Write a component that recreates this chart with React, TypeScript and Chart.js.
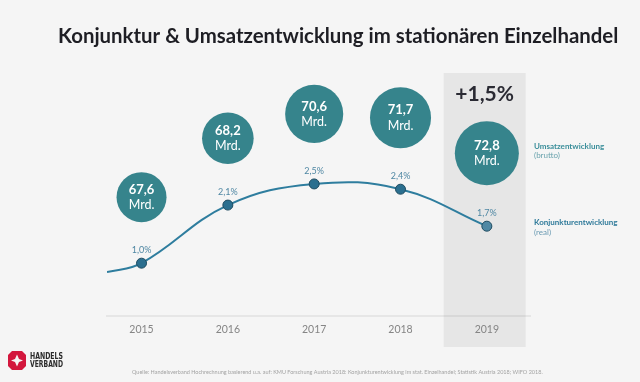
import React, { useEffect, useRef } from "react";
import { Chart, registerables } from "chart.js";

Chart.register(...registerables);

// ---- data ----
const years = [2015, 2016, 2017, 2018, 2019];
const konjunktur = [1.0, 2.1, 2.5, 2.4, 1.7];
const konjunkturLabels = ["1,0%", "2,1%", "2,5%", "2,4%", "1,7%"];
const umsatz = [67.6, 68.2, 70.6, 71.7, 72.8];
const umsatzLabels = ["67,6", "68,2", "70,6", "71,7", "72,8"];
const unitLabel = "Mrd.";
const leadIn = { x: 2014.6, y: 0.83 };
const highlightYear = 2019;
const highlightText = "+1,5%";
const titleText = "Konjunktur & Umsatzentwicklung im stationären Einzelhandel";
const sourceText =
  "Quelle: Handelsverband Hochrechnung basierend u.a. auf: KMU Forschung Austria 2018: Konjunkturentwicklung im stat. Einzelhandel; Statistik Austria 2018; WIFO 2018.";
const legendUmsatz = ["Umsatzentwicklung", "(brutto)"];
const legendKonjunktur = ["Konjunkturentwicklung", "(real)"];
const logoLines = ["HANDELS", "VERBAND"];

const FONT = "Lato, 'Open Sans', sans-serif";
const TEAL = "#36848c";

const decorPlugin = {
  id: "decor",
  beforeDraw(chart: any) {
    const { ctx, chartArea, scales } = chart;
    ctx.save();
    ctx.fillStyle = "#f5f5f5";
    ctx.fillRect(0, 0, chart.width, chart.height);
    const x0 = scales.x.getPixelForValue(highlightYear - 0.5);
    const x1 = scales.x.getPixelForValue(highlightYear + 0.45);
    ctx.fillStyle = "#e6e6e6";
    ctx.fillRect(x0, chartArea.top, x1 - x0, chartArea.bottom - chartArea.top + 31);
    ctx.restore();
  },
  afterDatasetsDraw(chart: any) {
    const { ctx, chartArea, scales } = chart;
    const meta = chart.getDatasetMeta(0);
    ctx.save();
    ctx.textAlign = "center";
    ctx.textBaseline = "middle";
    let lastCircleY = 0;
    let lastPointY = 0;
    years.forEach((yr, i) => {
      const pt = meta.data[i + 1];
      const px = pt.x;
      const py = pt.y;
      // percent label
      ctx.font = `9px ${FONT}`;
      ctx.fillStyle = "#4f87a3";
      ctx.fillText(konjunkturLabels[i], px, py - 13);
      // revenue circle
      const r = 25 + (umsatz[i] - umsatz[0]) * 1.35;
      const cy = py - 41 - r;
      ctx.beginPath();
      ctx.arc(px, cy, r, 0, Math.PI * 2);
      ctx.fillStyle = TEAL;
      ctx.fill();
      ctx.fillStyle = "#ffffff";
      ctx.font = `bold 13px ${FONT}`;
      ctx.fillText(umsatzLabels[i], px, cy - 7.5);
      ctx.font = `12.5px ${FONT}`;
      ctx.fillText(unitLabel, px, cy + 8);
      lastCircleY = cy;
      lastPointY = py;
    });
    // highlight text
    const hx = scales.x.getPixelForValue(highlightYear - 0.025);
    ctx.font = `bold 21px ${FONT}`;
    ctx.fillStyle = "#2a2a33";
    ctx.fillText(highlightText, hx, chartArea.top + 21);
    // side legend
    const lx = chartArea.right + 4;
    ctx.textAlign = "left";
    ctx.font = `bold 8px ${FONT}`;
    ctx.fillStyle = "#3a8e9a";
    ctx.fillText(legendUmsatz[0], lx, lastCircleY - 7);
    ctx.font = `8px ${FONT}`;
    ctx.fillStyle = "#6aa3ad";
    ctx.fillText(legendUmsatz[1], lx, lastCircleY + 2);
    ctx.font = `bold 8px ${FONT}`;
    ctx.fillStyle = "#2f7a9a";
    ctx.fillText(legendKonjunktur[0], lx, lastPointY - 4);
    ctx.font = `8px ${FONT}`;
    ctx.fillStyle = "#6a9ab2";
    ctx.fillText(legendKonjunktur[1], lx, lastPointY + 6);
    ctx.restore();
  },
  afterDraw(chart: any) {
    const { ctx } = chart;
    ctx.save();
    // title
    ctx.textAlign = "left";
    ctx.textBaseline = "alphabetic";
    ctx.font = `bold 20.4px ${FONT}`;
    ctx.fillStyle = "#1e1e24";
    ctx.fillText(titleText, 58, 43, 561);
    // source
    ctx.textBaseline = "middle";
    ctx.font = `5.5px ${FONT}`;
    ctx.fillStyle = "#a3a3a3";
    ctx.fillText(sourceText, 132, 372, 420);
    // logo mark
    ctx.fillStyle = "#d3173d";
    ctx.beginPath();
    ctx.moveTo(12, 351);
    ctx.lineTo(22, 351);
    ctx.lineTo(26, 355);
    ctx.lineTo(26, 366);
    ctx.lineTo(22, 370);
    ctx.lineTo(12, 370);
    ctx.lineTo(8, 366);
    ctx.lineTo(8, 355);
    ctx.closePath();
    ctx.fill();
    ctx.fillStyle = "#f5f5f5";
    ctx.beginPath();
    ctx.moveTo(17, 354.5);
    ctx.lineTo(19, 359);
    ctx.lineTo(23, 360.5);
    ctx.lineTo(19, 362);
    ctx.lineTo(17, 366.5);
    ctx.lineTo(15, 362);
    ctx.lineTo(11, 360.5);
    ctx.lineTo(15, 359);
    ctx.closePath();
    ctx.fill();
    ctx.fillStyle = "#2b2b2b";
    ctx.font = `bold 8px 'DejaVu Sans Condensed', 'DejaVu Sans', sans-serif`;
    ctx.fillText(logoLines[0], 30, 356.5, 33);
    ctx.fillText(logoLines[1], 30, 364.5, 33);
    ctx.restore();
  },
};

export default function App() {
  const ref = useRef<HTMLCanvasElement>(null);
  useEffect(() => {
    document.body.style.margin = "0";
    document.body.style.background = "#f5f5f5";
    const canvas = ref.current!;
    const lineData = [leadIn, ...years.map((x, i) => ({ x, y: konjunktur[i] }))];
    const chart = new Chart(canvas, {
      type: "line",
      data: {
        datasets: [
          {
            data: lineData,
            borderColor: "#2e7d9e",
            borderWidth: 2,
            tension: 0.4,
            pointRadius: [0, 5, 5, 5, 5, 5],
            pointBackgroundColor: ["#2b6f8f", "#2b6f8f", "#2b6f8f", "#2b6f8f", "#2b6f8f", "#4f88a4"],
            pointBorderColor: "#1f4c61",
            pointBorderWidth: 1,
          } as any,
        ],
      },
      options: {
        responsive: false,
        animation: false,
        events: [],
        layout: { padding: { left: 107, right: 110, top: 73, bottom: 0 } },
        plugins: { legend: { display: false }, tooltip: { enabled: false }, title: { display: false } },
        scales: {
          x: {
            type: "linear",
            min: 2014.6,
            max: 2019.5,
            grid: { display: false, drawTicks: false },
            border: { display: true, color: "rgba(0,0,0,0.06)", width: 2 },
            afterBuildTicks: (scale: any) => {
              scale.ticks = years.map((v) => ({ value: v }));
            },
            afterFit: (scale: any) => {
              scale.height = 66;
            },
            ticks: {
              autoSkip: false,
              maxRotation: 0,
              padding: 7,
              color: "#858585",
              font: { family: FONT, size: 10.5 },
              callback: (v: any) => String(v),
            },
          },
          y: { display: false, min: 0, max: 4.6 },
        },
      },
      plugins: [decorPlugin],
    });
    return () => chart.destroy();
  }, []);
  return (
    <div style={{ width: 640, height: 382 }}>
      <canvas ref={ref} width={640} height={382} style={{ display: "block" }} />
    </div>
  );
}
